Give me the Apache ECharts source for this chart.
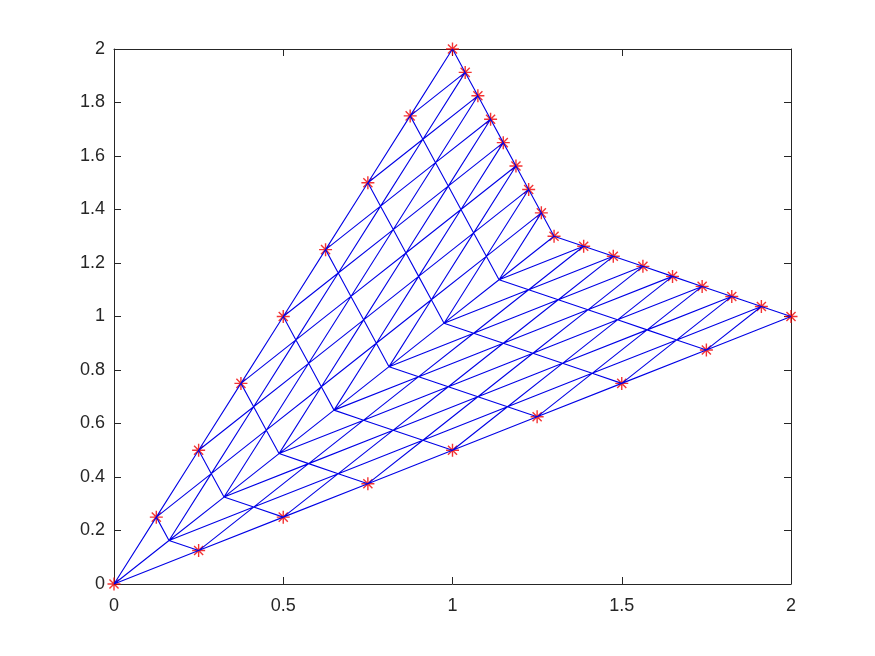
<!DOCTYPE html>
<html>
<head>
<meta charset="utf-8">
<title>mesh</title>
<script src="https://cdn.jsdelivr.net/npm/echarts@6/dist/echarts.min.js"></script>
<style>
html, body { margin: 0; padding: 0; background: #fff; }
#chart { width: 875px; height: 656px; }
</style>
</head>
<body>
<div id="chart"></div>
<script>
// mesh nodes of the lower triangle, one row per line running towards (2,1)
const lowerX = [
  [0, 0.25, 0.5, 0.75, 1, 1.25, 1.5, 1.75, 2],
  [0.1625, 0.4125, 0.6625, 0.9125, 1.1625, 1.4125, 1.6625, 1.9125],
  [0.325, 0.575, 0.825, 1.075, 1.325, 1.575, 1.825],
  [0.4875, 0.7375, 0.9875, 1.2375, 1.4875, 1.7375],
  [0.65, 0.9, 1.15, 1.4, 1.65],
  [0.8125, 1.0625, 1.3125, 1.5625],
  [0.975, 1.225, 1.475],
  [1.1375, 1.3875],
  [1.3]
]
const lowerY = [
  [0, 0.125, 0.25, 0.375, 0.5, 0.625, 0.75, 0.875, 1],
  [0.1625, 0.2875, 0.4125, 0.5375, 0.6625, 0.7875, 0.9125, 1.0375],
  [0.325, 0.45, 0.575, 0.7, 0.825, 0.95, 1.075],
  [0.4875, 0.6125, 0.7375, 0.8625, 0.9875, 1.1125],
  [0.65, 0.775, 0.9, 1.025, 1.15],
  [0.8125, 0.9375, 1.0625, 1.1875],
  [0.975, 1.1, 1.225],
  [1.1375, 1.2625],
  [1.3]
]
// the upper triangle is the same mesh mirrored over y = x
const upperX = lowerY
const upperY = lowerX

// red stars on the outline
const boundaryX = [0, 0.25, 0.5, 0.75, 1, 1.25, 1.5, 1.75, 2,
  1.9125, 1.825, 1.7375, 1.65, 1.5625, 1.475, 1.3875, 1.3,
  1.2625, 1.225, 1.1875, 1.15, 1.1125, 1.075, 1.0375, 1,
  0.875, 0.75, 0.625, 0.5, 0.375, 0.25, 0.125]
const boundaryY = [0, 0.125, 0.25, 0.375, 0.5, 0.625, 0.75, 0.875, 1,
  1.0375, 1.075, 1.1125, 1.15, 1.1875, 1.225, 1.2625, 1.3,
  1.3875, 1.475, 1.5625, 1.65, 1.7375, 1.825, 1.9125, 2,
  1.75, 1.5, 1.25, 1, 0.75, 0.5, 0.25]

const xTicks = ['0', '0.5', '1', '1.5', '2']
const yTicks = ['0', '0.2', '0.4', '0.6', '0.8', '1', '1.2', '1.4', '1.6', '1.8', '2']

// walk every triangle, null breaks the line between triangles
// skipDiagonal leaves out the shared y = x edge so it is not drawn twice
function meshLine (xs, ys, skipDiagonal) {
  const out = []
  for (let r = 0; r < xs.length - 1; r++) {
    for (let k = 0; k < xs[r].length - 1; k++) {
      out.push([xs[r][k], ys[r][k]])
      out.push([xs[r][k + 1], ys[r][k + 1]])
      out.push([xs[r + 1][k], ys[r + 1][k]])
      if (!(skipDiagonal && k === 0)) out.push([xs[r][k], ys[r][k]])
      out.push(null)
    }
  }
  return out
}

const meshData = meshLine(lowerX, lowerY, false).concat(meshLine(upperX, upperY, true))
const starData = boundaryX.map((x, i) => [x, boundaryY[i]])

const axisColor = '#262626'
const axisFont = { color: axisColor, fontFamily: 'Liberation Sans', fontSize: 18 }
const tickStyle = { show: true, inside: true, length: 7, lineStyle: { color: axisColor, width: 1 } }
const lineStyle = { show: true, onZero: false, lineStyle: { color: axisColor, width: 1 } }

function xAxisOpt (position, labels) {
  return {
    type: 'value', position: position, min: 0, max: 2, interval: 0.5,
    axisLine: lineStyle, axisTick: tickStyle, splitLine: { show: false },
    axisLabel: { show: labels, margin: 13, formatter: v => xTicks[Math.round(v * 2)], ...axisFont }
  }
}
function yAxisOpt (position, labels) {
  return {
    type: 'value', position: position, min: 0, max: 2, interval: 0.2,
    axisLine: lineStyle, axisTick: tickStyle, splitLine: { show: false },
    axisLabel: { show: labels, margin: 9, padding: [4, 0, 0, 0], formatter: v => yTicks[Math.round(v * 5)], ...axisFont }
  }
}

const chart = echarts.init(document.getElementById('chart'), null, { renderer: 'canvas' })
chart.setOption({
  animation: false,
  backgroundColor: '#fff',
  grid: { left: 114, top: 49, width: 677, height: 535, containLabel: false },
  xAxis: [xAxisOpt('bottom', true), xAxisOpt('top', false)],
  yAxis: [yAxisOpt('left', true), yAxisOpt('right', false)],
  series: [
    {
      type: 'line',
      data: meshData,
      symbol: 'none',
      connectNulls: false,
      clip: false,
      lineStyle: { color: '#0000e6', width: 1.1 }
    },
    {
      type: 'scatter',
      data: starData,
      clip: false,
      symbol: 'path://M50 0L50 100M0 50L100 50M15 15L85 85M15 85L85 15',
      symbolSize: 13,
      itemStyle: { color: 'none', borderColor: '#f00000', borderWidth: 1.4 }
    }
  ]
})
</script>
</body>
</html>
